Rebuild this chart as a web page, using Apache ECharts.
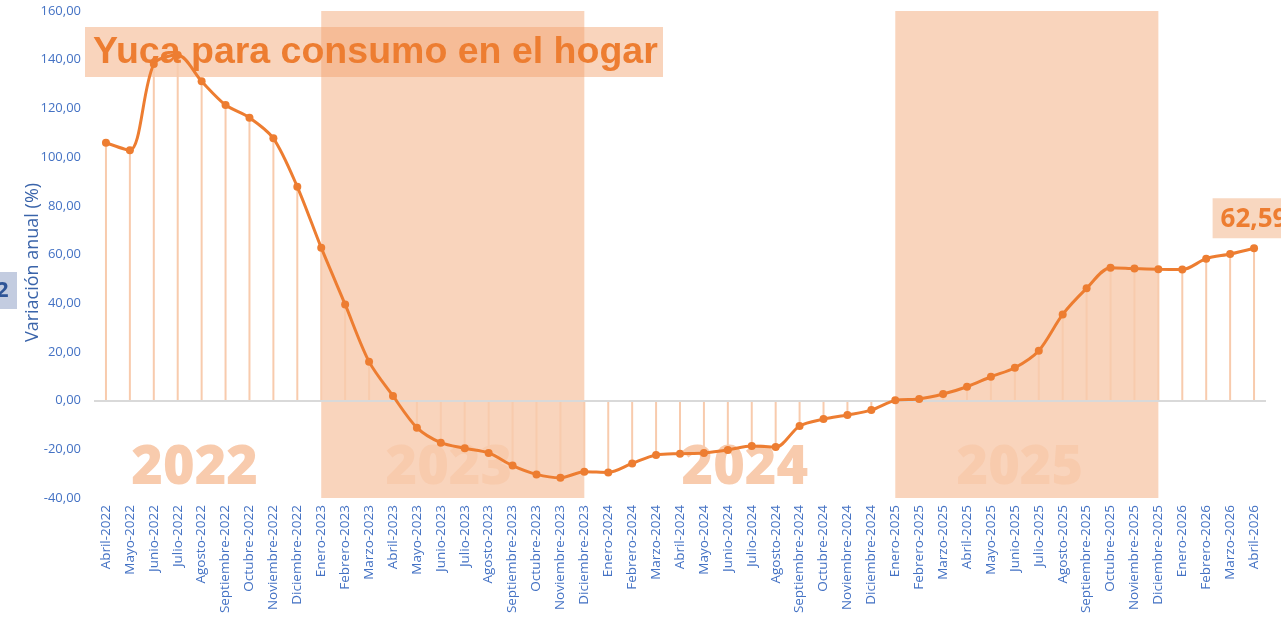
<!DOCTYPE html>
<html>
<head>
<meta charset="utf-8">
<script src="https://cdn.jsdelivr.net/npm/echarts@6/dist/echarts.min.js"></script>
<style>
  html, body { margin: 0; padding: 0; background: #fff; }
  #chart { width: 1281px; height: 620px; }
</style>
</head>
<body>
<div id="chart"></div>
<script>
// meses (abril 2022 - abril 2026)
const meses = [
  'Abril-2022', 'Mayo-2022', 'Junio-2022', 'Julio-2022', 'Agosto-2022', 'Septiembre-2022',
  'Octubre-2022', 'Noviembre-2022', 'Diciembre-2022',
  'Enero-2023', 'Febrero-2023', 'Marzo-2023', 'Abril-2023', 'Mayo-2023', 'Junio-2023',
  'Julio-2023', 'Agosto-2023', 'Septiembre-2023', 'Octubre-2023', 'Noviembre-2023', 'Diciembre-2023',
  'Enero-2024', 'Febrero-2024', 'Marzo-2024', 'Abril-2024', 'Mayo-2024', 'Junio-2024',
  'Julio-2024', 'Agosto-2024', 'Septiembre-2024', 'Octubre-2024', 'Noviembre-2024', 'Diciembre-2024',
  'Enero-2025', 'Febrero-2025', 'Marzo-2025', 'Abril-2025', 'Mayo-2025', 'Junio-2025',
  'Julio-2025', 'Agosto-2025', 'Septiembre-2025', 'Octubre-2025', 'Noviembre-2025', 'Diciembre-2025',
  'Enero-2026', 'Febrero-2026', 'Marzo-2026', 'Abril-2026'
]

// variación anual (%)
const variacion = [
  105.9, 102.8, 138.2, 141.9, 131.1, 121.4, 116.2, 107.7, 87.8,
  62.8, 39.5, 16.0, 1.9, -11.1, -17.3, -19.6, -21.5, -26.7, -30.3, -31.7, -29.2,
  -29.5, -25.8, -22.3, -21.8, -21.5, -20.3, -18.6, -19.1, -10.4, -7.6, -5.9, -3.9,
  0.1, 0.7, 2.7, 5.7, 9.8, 13.5, 20.5, 35.4, 46.1, 54.6, 54.2, 53.9,
  53.8, 58.3, 60.2, 62.59
]

// bloques por año [desde, hasta, etiqueta, sombreado, desplazamiento]
const anios = [
  ['Abril-2022', 'Diciembre-2022', '2022', false, -7],
  ['Enero-2023', 'Diciembre-2023', '2023', true, -4],
  ['Enero-2024', 'Diciembre-2024', '2024', false, 5],
  ['Enero-2025', 'Diciembre-2025', '2025', true, -7]
]

const yTicks = { min: -40, max: 160, interval: 20 }

const naranja = '#ED7D31'
const naranjaClaro = '#F8CBAD'
const azul = '#4472C4'
const sombra = 'rgba(241,160,106,0.45)'

const fmt = v => v.toFixed(2).replace('.', ',')

const chart = echarts.init(document.getElementById('chart'))

const lineData = variacion.map((v, i) => {
  if (i !== variacion.length - 1) return v
  return {
    value: v,
    label: {
      show: true,
      position: 'top',
      distance: 6,
      formatter: fmt(v),
      backgroundColor: '#F8D7C0',
      color: naranja,
      fontSize: 26,
      fontWeight: 'bold',
      fontFamily: 'Open Sans',
      padding: [8, 8, 6, 8]
    }
  }
})

const option = {
  backgroundColor: '#fff',
  animation: false,
  grid: { left: 94, right: 15, top: 11, bottom: 122 },
  xAxis: {
    type: 'category',
    data: meses,
    boundaryGap: true,
    axisLine: { show: false },
    axisTick: { show: false },
    axisLabel: {
      interval: 0,
      rotate: 90,
      margin: 7,
      color: azul,
      fontSize: 13.5,
      fontFamily: 'Open Sans'
    }
  },
  yAxis: {
    type: 'value',
    min: yTicks.min,
    max: yTicks.max,
    interval: yTicks.interval,
    name: 'Variación anual (%)',
    nameLocation: 'middle',
    nameGap: 52,
    nameMoveOverlap: false,
    nameTextStyle: {
      color: '#3A64AA',
      fontSize: 18,
      fontFamily: 'Open Sans',
      padding: [0, 16, 0, 0]
    },
    axisLine: { show: false },
    axisTick: { show: false },
    splitLine: { show: false },
    axisLabel: {
      color: azul,
      fontSize: 13,
      fontFamily: 'Open Sans',
      margin: 13,
      formatter: fmt
    }
  },
  graphic: [
    {
      type: 'rect', z: 1,
      shape: { x: 85, y: 27, width: 578, height: 50 },
      style: { fill: sombra }
    },
    {
      type: 'text', z: 100,
      x: 93, y: 53,
      style: {
        text: 'Yuca para consumo en el hogar',
        fill: naranja,
        font: 'bold 37.5px "Liberation Sans", Arial',
        verticalAlign: 'middle'
      }
    },
    {
      type: 'rect', z: 1,
      shape: { x: 0, y: 272, width: 17, height: 37 },
      style: { fill: '#C3CCE0' }
    },
    {
      type: 'text', z: 2,
      x: -4, y: 291,
      style: {
        text: '2',
        fill: '#2F5597',
        font: 'bold 22px "Open Sans"',
        verticalAlign: 'middle'
      }
    }
  ],
  series: [
    {
      name: 'guias',
      type: 'bar',
      data: variacion,
      barWidth: 2,
      silent: true,
      itemStyle: { color: naranjaClaro },
      z: 1
    },
    {
      name: 'Variación anual',
      type: 'line',
      data: lineData,
      smooth: 0.3,
      symbol: 'circle',
      symbolSize: 8,
      lineStyle: { color: naranja, width: 3 },
      itemStyle: { color: naranja },
      z: 5,
      markLine: {
        silent: true,
        symbol: 'none',
        label: { show: false },
        lineStyle: { color: '#D9D9D9', width: 2, type: 'solid' },
        data: [{ yAxis: 0 }]
      },
      markArea: {
        silent: true,
        data: anios.map(a => [
          {
            xAxis: a[0],
            itemStyle: { color: a[3] ? sombra : 'rgba(0,0,0,0)' },
            label: {
              show: true,
              position: 'insideBottom',
              distance: 2,
              offset: [a[4], 0],
              formatter: a[2],
              color: naranjaClaro,
              fontSize: 54,
              fontWeight: 800,
              fontFamily: 'Open Sans'
            }
          },
          { xAxis: a[1] }
        ])
      }
    }
  ]
}

chart.setOption(option)
</script>
</body>
</html>
